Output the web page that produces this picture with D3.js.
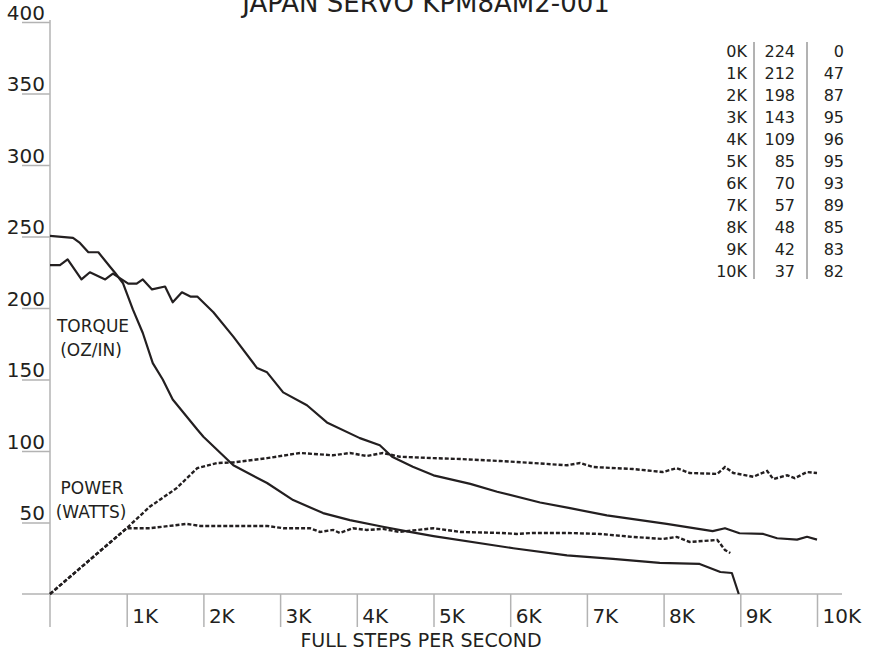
<!DOCTYPE html>
<html>
<head>
<meta charset="utf-8">
<script src="https://cdn.jsdelivr.net/npm/d3@7"></script>
<style>
  body { margin: 0; background: #fff; }
  svg { display: block; font-family: "DejaVu Sans", sans-serif; }
</style>
</head>
<body>
<svg id="chart"></svg>
<script>
// speeds in K steps/sec
const torqueSlow = [[0,250.5],[0.30,249],[0.39,245.5],[0.50,239],[0.63,239],[0.78,229],[0.85,224.5],[0.95,217.5],
  [1.08,199],[1.21,182.5],[1.34,161.5],[1.47,150],[1.60,136],[1.92,115],[2.00,110],[2.39,90],[2.83,77.6],
  [3.17,65.7],[3.56,56.6],[3.91,51.7],[4.34,47],[4.69,43.4],[5.00,40.5],[6.04,32],[6.74,27],[7.34,24.5],
  [7.95,21.7],[8.47,21],[8.74,15.4],[8.89,14.7],[8.98,0]];

const torqueFast = [[0,230],[0.13,230],[0.23,234],[0.41,220],[0.52,225],[0.72,220],[0.82,224],[1.02,217],
  [1.13,217],[1.21,220],[1.33,213],[1.50,215],[1.60,204],[1.72,211],[1.83,208],[1.92,208],[2.13,197],
  [2.39,180],[2.70,158],[2.83,155],[3.04,141],[3.35,132],[3.61,120],[4.04,109],[4.30,104],[4.46,96],
  [4.73,89],[5.00,83],[5.48,77],[5.83,71.5],[6.39,64],[6.78,60],[7.26,55],[8.04,49],[8.64,44],[8.80,46],
  [8.99,42.5],[9.30,42],[9.48,39],[9.74,38],[9.87,40],[10.0,38]];

const powerFast = [[0,0],[1.0,46],[1.30,61],[1.65,74],[1.92,88],[2.18,91.6],[2.39,92],[2.83,95],[3.26,98.6],
  [3.69,97],[3.91,98.6],[4.13,96.5],[4.34,98.6],[4.56,96],[5.0,95],[5.35,94.4],[5.87,93],[6.30,91.6],
  [6.74,90],[6.91,91.6],[7.08,88.8],[7.60,87.4],[7.99,85.3],[8.17,88],[8.34,84.6],[8.70,84],[8.80,88.8],
  [8.91,84.6],[9.17,82],[9.35,86],[9.43,80.4],[9.61,83],[9.71,81],[9.87,85.3],[10.0,84.6]];

const powerSlow = [[0,0],[1.0,46],[1.30,46],[1.78,49],[1.96,47.6],[2.83,47.6],[3.04,46],[3.39,46],[3.52,43.4],
  [3.69,44.8],[3.78,42.7],[3.95,46],[4.13,44.8],[4.34,45.5],[4.56,43.4],[4.91,45.5],[5.0,46],[5.35,43.4],
  [5.87,42.7],[6.09,42],[6.30,42.7],[6.74,42.7],[7.17,42],[7.60,39.9],[7.99,38.5],[8.17,39.9],[8.34,36.4],
  [8.70,37.8],[8.80,30.8],[8.87,28.7]];

const xTicks = [1, 2, 3, 4, 5, 6, 7, 8, 9, 10];
const yTicks = [50, 100, 150, 200, 250, 300, 350, 400];

const tableSpeeds = ["0K", "1K", "2K", "3K", "4K", "5K", "6K", "7K", "8K", "9K", "10K"];
const tableTorque = [224, 212, 198, 143, 109, 85, 70, 57, 48, 42, 37];
const tablePower = [0, 47, 87, 95, 96, 95, 93, 89, 85, 83, 82];

const width = 871;
const height = 654;
const axisColor = "#b3b3b3";
const inkColor = "#231f20";

const x = d3.scaleLinear([0, 10], [50, 817]);
const y = d3.scaleLinear([0, 400], [594, 22]);

const svg = d3.select("#chart")
  .attr("width", width)
  .attr("height", height)
  .attr("viewBox", [0, 0, width, height]);

// title (sits partly above the top edge, as in the original)
svg.append("text")
  .attr("x", 426)
  .attr("y", 12)
  .attr("text-anchor", "middle")
  .attr("font-size", 26)
  .attr("fill", inkColor)
  .text("JAPAN SERVO KPM8AM2-001");

// x axis: baseline, ticks hanging down, labels right of ticks
svg.append("line")
  .attr("x1", 22).attr("x2", 842)
  .attr("y1", y(0)).attr("y2", y(0))
  .attr("stroke", axisColor).attr("stroke-width", 1.5);

svg.append("g")
  .attr("transform", `translate(0,${y(0)})`)
  .call(d3.axisBottom(x).tickValues(xTicks).tickSize(33).tickFormat(d => d + "K"))
  .call(g => g.select(".domain").remove())
  .call(g => g.selectAll(".tick line").attr("stroke", axisColor).attr("stroke-width", 1.5))
  .call(g => g.selectAll(".tick text")
    .attr("x", 5).attr("y", 29).attr("dy", null)
    .attr("text-anchor", "start")
    .attr("font-size", 20)
    .attr("font-family", "DejaVu Sans")
    .attr("fill", inkColor));

// y axis: vertical line, label underlines to the left
svg.append("line")
  .attr("x1", x(0)).attr("x2", x(0))
  .attr("y1", 20).attr("y2", y(0) + 33)
  .attr("stroke", axisColor).attr("stroke-width", 1.5);

svg.append("g")
  .attr("transform", `translate(${x(0)},0)`)
  .call(d3.axisLeft(y).tickValues(yTicks).tickSize(28).tickFormat(d3.format("d")))
  .call(g => g.select(".domain").remove())
  .call(g => g.selectAll(".tick line").attr("stroke", axisColor).attr("stroke-width", 1.5))
  .call(g => g.selectAll(".tick text")
    .attr("x", -5).attr("y", -3).attr("dy", null)
    .attr("text-anchor", "end")
    .attr("font-size", 20)
    .attr("font-family", "DejaVu Sans")
    .attr("fill", inkColor));

svg.append("text")
  .attr("x", 421)
  .attr("y", 647)
  .attr("text-anchor", "middle")
  .attr("font-size", 19)
  .attr("fill", inkColor)
  .text("FULL STEPS PER SECOND");

// curve labels
const labels = [["TORQUE", 93, 332], ["(OZ/IN)", 91, 356], ["POWER", 92, 494], ["(WATTS)", 91, 518]];
labels.forEach(([t, lx, ly]) => {
  svg.append("text")
    .attr("x", lx).attr("y", ly)
    .attr("text-anchor", "middle")
    .attr("font-size", 17)
    .attr("fill", inkColor)
    .text(t);
});

const line = d3.line()
  .x(d => x(d[0]))
  .y(d => y(d[1]));

for (const series of [torqueSlow, torqueFast]) {
  svg.append("path")
    .attr("fill", "none")
    .attr("stroke", inkColor)
    .attr("stroke-width", 2.2)
    .attr("stroke-linejoin", "round")
    .attr("d", line(series));
}

for (const series of [powerFast, powerSlow]) {
  svg.append("path")
    .attr("fill", "none")
    .attr("stroke", inkColor)
    .attr("stroke-width", 2.4)
    .attr("stroke-dasharray", "4,2")
    .attr("d", line(series));
}

// data table top right
const rowY = d3.scaleLinear([0, 10], [57, 277]);
const table = svg.append("g")
  .attr("font-size", 16)
  .attr("fill", inkColor);

tableSpeeds.forEach((s, i) => {
  table.append("text").attr("x", 747).attr("y", rowY(i)).attr("text-anchor", "end").text(s);
  table.append("text").attr("x", 795).attr("y", rowY(i)).attr("text-anchor", "end").text(tableTorque[i]);
  table.append("text").attr("x", 844).attr("y", rowY(i)).attr("text-anchor", "end").text(tablePower[i]);
});

for (const dx of [754, 807]) {
  table.append("line")
    .attr("x1", dx).attr("x2", dx)
    .attr("y1", 42).attr("y2", 279)
    .attr("stroke", "#666").attr("stroke-width", 1);
}
</script>
</body>
</html>
